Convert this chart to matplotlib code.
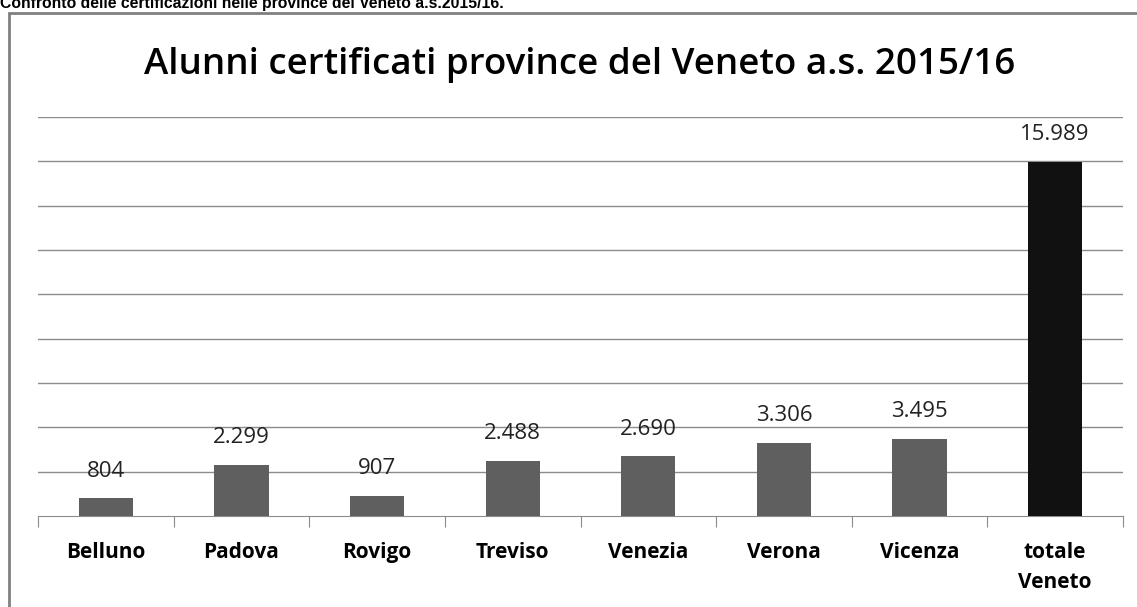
import numpy as np
import matplotlib.pyplot as plt
from matplotlib.patches import Rectangle

categories = ["Belluno", "Padova", "Rovigo", "Treviso", "Venezia", "Verona", "Vicenza", "totale\nVeneto"]
values = [804, 2299, 907, 2488, 2690, 3306, 3495, 15989]
labels = ["804", "2.299", "907", "2.488", "2.690", "3.306", "3.495", "15.989"]
colors = ["#5f5f5f"] * 7 + ["#111111"]

W, H = 1137, 607
fig = plt.figure(figsize=(W / 100, H / 100), dpi=100)
fig.patch.set_facecolor("white")

# outer frame of the chart (left and top visible, rest cropped)
fig.add_artist(Rectangle((9 / W, -0.1), 1.2, (H - 13) / H + 0.1, transform=fig.transFigure,
                         fill=False, edgecolor="#808080", linewidth=2))

# header text, cut at the top like in the source
fig.text(0.5 / W, 1 - 8 / H, "Confronto delle certificazioni nelle province del Veneto a.s.2015/16.",
         fontsize=11.3, fontweight="bold", family="Liberation Sans", va="baseline", ha="left")

ax = fig.add_axes([38 / W, 91 / H, (1123 - 38) / W, (516 - 117) / H])
x = np.arange(len(categories))
bars = ax.bar(x, values, width=0.4, color=colors, zorder=3)
ax.set_xlim(-0.5, len(categories) - 0.5)
ax.set_ylim(0, 18000)
ax.set_yticks(np.arange(2000, 18001, 2000))
ax.yaxis.grid(True, color="#8c8c8c", linewidth=1)
ax.tick_params(axis="y", left=False, labelleft=False)
for s in ["top", "right", "left"]:
    ax.spines[s].set_visible(False)
ax.spines["bottom"].set_color("#8c8c8c")

ax.set_xticks(np.arange(-0.5, len(categories), 1.0), minor=False)
ax.tick_params(axis="x", which="major", length=8, color="#8c8c8c", labelbottom=False)
ax.set_xticks(x, minor=True)
ax.set_xticklabels(categories, minor=True, fontsize=15, fontweight="bold", family="Open Sans",
                   va="top", linespacing=1.55)
ax.tick_params(axis="x", which="minor", length=0, pad=19)

for xi, v, lab in zip(x, values, labels):
    ax.annotate(lab, (xi, v), xytext=(0, 12), textcoords="offset points",
                ha="center", va="bottom", fontsize=16, family="Open Sans", color="#222222")

fig.text(0.5 * (140 + 1020) / W, 1 - 65 / H, "Alunni certificati province del Veneto a.s. 2015/16",
         ha="center", va="center", fontsize=26.5, family="Open Sans", fontweight="semibold")

fig.savefig("out.png", dpi=100)
